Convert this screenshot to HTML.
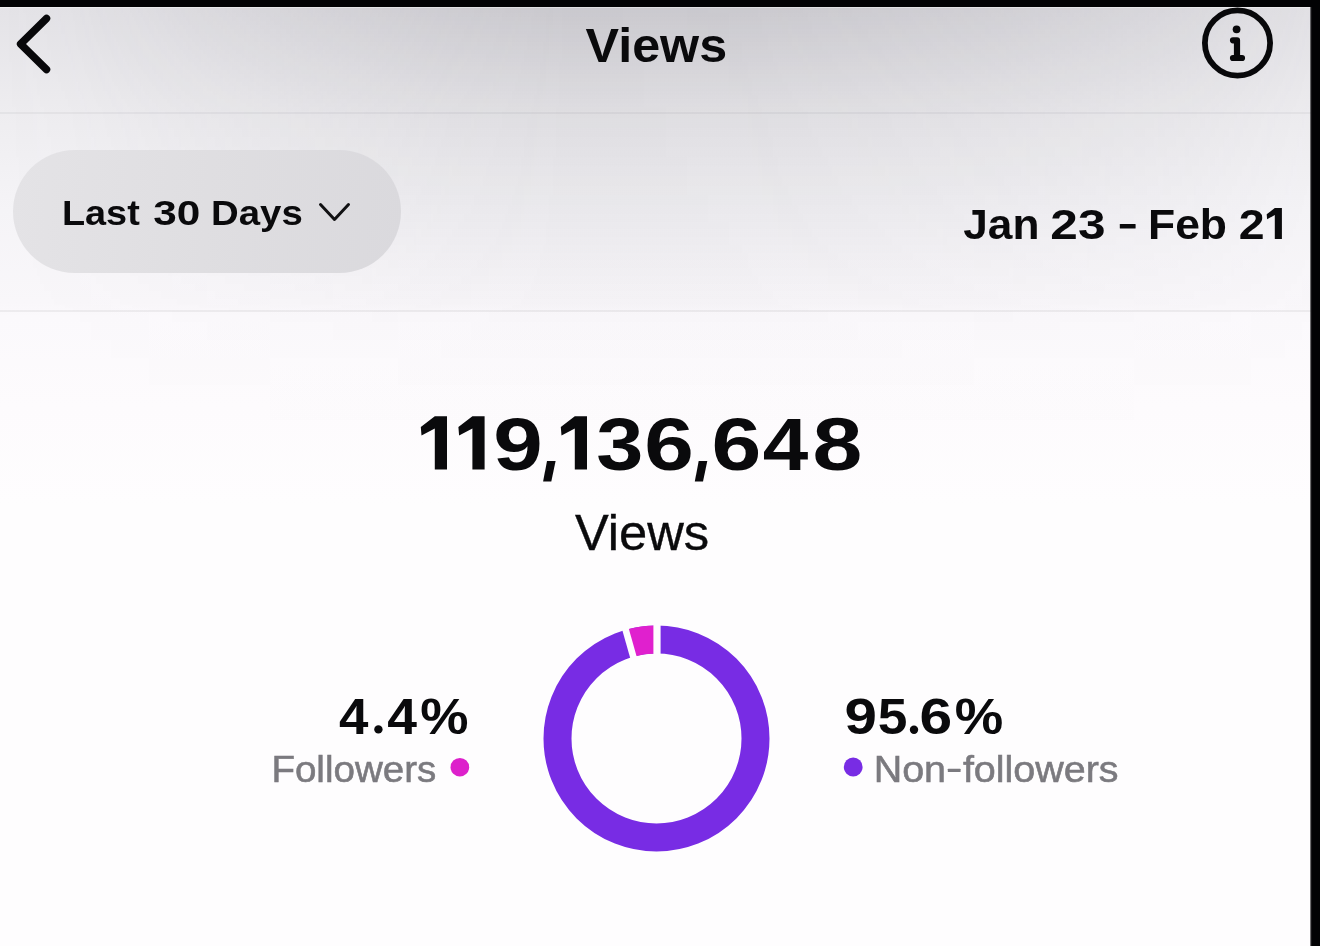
<!DOCTYPE html>
<html>
<head>
<meta charset="utf-8">
<title>Views</title>
<style>
  html, body { margin: 0; padding: 0; }
  body {
    width: 1320px; height: 946px; overflow: hidden;
    background: #020204;
    font-family: "Liberation Sans", sans-serif;
    color: #0b0b0d;
    position: relative;
  }
  .screen {
    position: absolute; left: 0; top: 7px; width: 1311px; height: 939px;
    overflow: hidden;
    background: #fdfcfd;
  }
  /* background: edge-column vertical gradient + centre darkening */
  .bg { position: absolute; left: 0; top: 0; width: 1311px; height: 939px;
    background: linear-gradient(180deg, #e4e3e7 0px, #eeedf0 106px, #f5f4f7 203px, #f9f7fa 296px, #fbf9fc 310px, #fdfbfd 400px, #fefdfe 500px, #fefdfe 939px); }
  .vig { position: absolute; left: 0; top: 0; width: 1311px; height: 440px;
    background: linear-gradient(180deg, rgba(108,106,116,0.22) 0px, rgba(108,106,116,0.117) 106px, rgba(108,106,116,0.078) 203px, rgba(108,106,116,0.03) 296px, rgba(108,106,116,0.018) 306px, rgba(108,106,116,0.008) 360px, rgba(108,106,116,0.0) 430px);
    -webkit-mask-image: linear-gradient(90deg, rgba(0,0,0,0.0) 0px, rgba(0,0,0,0.08) 70px, rgba(0,0,0,0.36) 200px, rgba(0,0,0,0.6) 320px, rgba(0,0,0,0.85) 450px, rgba(0,0,0,1.0) 570px, rgba(0,0,0,0.97) 740px, rgba(0,0,0,0.86) 880px, rgba(0,0,0,0.72) 1000px, rgba(0,0,0,0.56) 1100px, rgba(0,0,0,0.4) 1190px, rgba(0,0,0,0.1) 1311px);
    mask-image: linear-gradient(90deg, rgba(0,0,0,0.0) 0px, rgba(0,0,0,0.08) 70px, rgba(0,0,0,0.36) 200px, rgba(0,0,0,0.6) 320px, rgba(0,0,0,0.85) 450px, rgba(0,0,0,1.0) 570px, rgba(0,0,0,0.97) 740px, rgba(0,0,0,0.86) 880px, rgba(0,0,0,0.72) 1000px, rgba(0,0,0,0.56) 1100px, rgba(0,0,0,0.4) 1190px, rgba(0,0,0,0.1) 1311px); }
  .hdr-hl { position: absolute; left: 0; top: 0; width: 1311px; height: 1px; background: rgba(255,255,255,0.4); }
  .line1 { position: absolute; left: 0; top: 105px; width: 1311px; height: 2px; background: rgba(60,60,64,0.055); }
  .line2 { position: absolute; left: 0; top: 302.5px; width: 1311px; height: 2px; background: rgba(60,60,64,0.065); }
  .t { position: absolute; white-space: nowrap; line-height: 1; transform-origin: 0 0; }
  .b { font-weight: bold; }
  .pill {
    position: absolute; left: 13px; top: 143px; width: 388px; height: 123px;
    border-radius: 62px; filter: blur(0.6px); background: linear-gradient(95deg, #e4e3e6 0%, #dfdee1 50%, #dad9dd 100%);
  }
  svg { position: absolute; left: 0; top: 0; overflow: visible; will-change: transform; filter: blur(0.45px); }
</style>
</head>
<body>
<div id="edgeR2" style="position:absolute; left:1311px; top:7px; width:1px; height:939px; background:#151417;"></div>
<div class="screen">
  <div class="bg"></div>
  <div class="vig"></div>
  <div class="hdr-hl"></div>
  <div class="line1"></div>
  <div class="line2"></div>

  <div class="pill"></div>
  <div id="edgeR1" style="position:absolute; left:1310px; top:0; width:1px; height:939px; background:rgba(2,2,4,0.56);"></div>

  <!-- all coordinates inside .screen are target-y minus 7 -->
  <svg width="1311" height="939" viewBox="0 7 1311 939">
    <!-- back arrow -->
    <polyline points="46.5,18.5 20.6,44 46.5,69.5" fill="none" stroke="#08080a" stroke-width="7.5" stroke-linecap="round" stroke-linejoin="round"/>
    <!-- info icon -->
    <circle cx="1237.5" cy="43" r="32.6" fill="none" stroke="#08080a" stroke-width="5.8"/>
    <circle cx="1236.6" cy="29.3" r="3.9" fill="#08080a"/>
    <path d="M1233 40.3 H1237 V58 M1233 58 H1242" fill="none" stroke="#08080a" stroke-width="6.2" stroke-linecap="round" stroke-linejoin="round"/>
    <!-- chevron -->
    <polyline points="320.5,204.5 334.5,219.5 348.5,204.5" fill="none" stroke="#111113" stroke-width="3" stroke-linecap="round" stroke-linejoin="round"/>
    <!-- donut -->
    <g id="donut">
      <circle cx="656.5" cy="738.5" r="99" fill="none" stroke="#782ce4" stroke-width="28"/>
      <path id="pinkarc" d="M656.5 639.5 A99 99 0 0 0 629.48 643.26" fill="none" stroke="#e020ce" stroke-width="28"/>
      <line id="gap1" x1="657" y1="661" x2="657" y2="620" stroke="#fefdfe" stroke-width="7.2"/>
      <line id="gap2" x1="634.66" y1="661.54" x2="624.29" y2="624.98" stroke="#fefdfe" stroke-width="6.6"/>
    </g>
    <!-- TEXT-BEGIN -->
    <g fill="#0a0a0c" font-family="Liberation Sans, sans-serif">
      <text transform="translate(585.62,62) scale(1.0250,1)" font-size="49" font-weight="bold">Views</text>
      <text transform="translate(61.94,225) scale(1.1010,1)" font-size="34.4" font-weight="bold">Last</text>
      <text transform="translate(153.15,225) scale(1.2294,1)" font-size="34.4" font-weight="bold">30</text>
      <text transform="translate(211.01,225) scale(1.1157,1)" font-size="34.4" font-weight="bold">Days</text>
      <text transform="translate(963.24,238.9) scale(1.0290,1)" font-size="43" font-weight="bold">Jan</text>
      <text transform="translate(1050.37,238.9) scale(1.1516,1)" font-size="43" font-weight="bold">23</text>
      <rect x="1119.8" y="223.90" width="15.80" height="4.6" rx="0.6"/>
      <text transform="translate(1148.00,238.9) scale(1.0333,1)" font-size="43" font-weight="bold">Feb</text>
      <text transform="translate(1238.67,238.9) scale(1.0804,1)" font-size="43" font-weight="bold">2</text>
      <polygon points="1274.8,208.0 1281.9,208.0 1281.9,238.9 1274.8,238.9 1274.8,215.1 1267.1,219.2 1266.7,214.2"/>
      <text transform="translate(493.18,469.6) scale(1.1876,1)" font-size="75" font-weight="bold">9</text>
      <text transform="translate(596.30,469.6) scale(1.1283,1)" font-size="75" font-weight="bold">3</text>
      <text transform="translate(644.26,469.6) scale(1.1883,1)" font-size="75" font-weight="bold">6</text>
      <text transform="translate(711.44,469.6) scale(1.1938,1)" font-size="75" font-weight="bold">6</text>
      <text transform="translate(762.87,469.6) scale(1.0916,1)" font-size="75" font-weight="bold">4</text>
      <text transform="translate(812.39,469.6) scale(1.1939,1)" font-size="75" font-weight="bold">8</text>
      <polygon points="434.8,416.2 447.0,416.2 447.0,469.6 434.8,469.6 434.8,428.5 421.5,435.5 420.8,427.0"/>
      <polygon points="472.4,416.2 484.6,416.2 484.6,469.6 472.4,469.6 472.4,428.5 459.1,435.5 458.4,427.0"/>
      <polygon points="574.8,416.2 587.0,416.2 587.0,469.6 574.8,469.6 574.8,428.5 561.5,435.5 560.8,427.0"/>
      <polygon points="547.0,461.0 555.6,461.0 551.3,481.6 543.1,481.6"/>
      <polygon points="698.7,461.0 707.3,461.0 703.0,481.6 694.8,481.6"/>
      <text stroke="#0a0a0c" stroke-width="0.35" transform="translate(574.95,550) scale(1.0240,1)" font-size="49.5">Views</text>
      <text transform="translate(338.91,733.6) scale(1.0686,1)" font-size="49.5" font-weight="bold">4</text>
      <text transform="translate(387.20,733.6) scale(1.0800,1)" font-size="49.5" font-weight="bold">4</text>
      <text transform="translate(420.14,733.6) scale(1.0975,1)" font-size="49.5" font-weight="bold">%</text>
      <circle cx="378.4" cy="729.4" r="4.2"/>
      <text transform="translate(844.56,733.6) scale(1.1788,1)" font-size="49.5" font-weight="bold">9</text>
      <text transform="translate(877.67,733.6) scale(1.0774,1)" font-size="49.5" font-weight="bold">5</text>
      <text transform="translate(919.40,733.6) scale(1.1849,1)" font-size="49.5" font-weight="bold">6</text>
      <text transform="translate(954.64,733.6) scale(1.1024,1)" font-size="49.5" font-weight="bold">%</text>
      <circle cx="914.0" cy="729.8" r="4.2"/>
      <text transform="translate(271.42,781.8) scale(1.0557,1)" font-size="36.5" fill="#7b7a7f" stroke="#7b7a7f" stroke-width="0.55">Followers</text>
      <text transform="translate(873.64,781.6) scale(1.0813,1)" font-size="36.5" fill="#7b7a7f" stroke="#7b7a7f" stroke-width="0.55">Non</text>
      <rect x="947.8" y="768.75" width="12.80" height="3.3" rx="0.6" fill="#7b7a7f"/>
      <text transform="translate(962.91,781.6) scale(1.0811,1)" font-size="36.5" fill="#7b7a7f" stroke="#7b7a7f" stroke-width="0.55">followers</text>
    </g>
    <!-- TEXT-END -->
    <!-- legend dots -->
    <circle cx="459.85" cy="767.2" r="9.3" fill="#dd20cb"/>
    <circle cx="853.2" cy="767" r="9.4" fill="#782ce4"/>
  </svg>

</div>
</body>
</html>
